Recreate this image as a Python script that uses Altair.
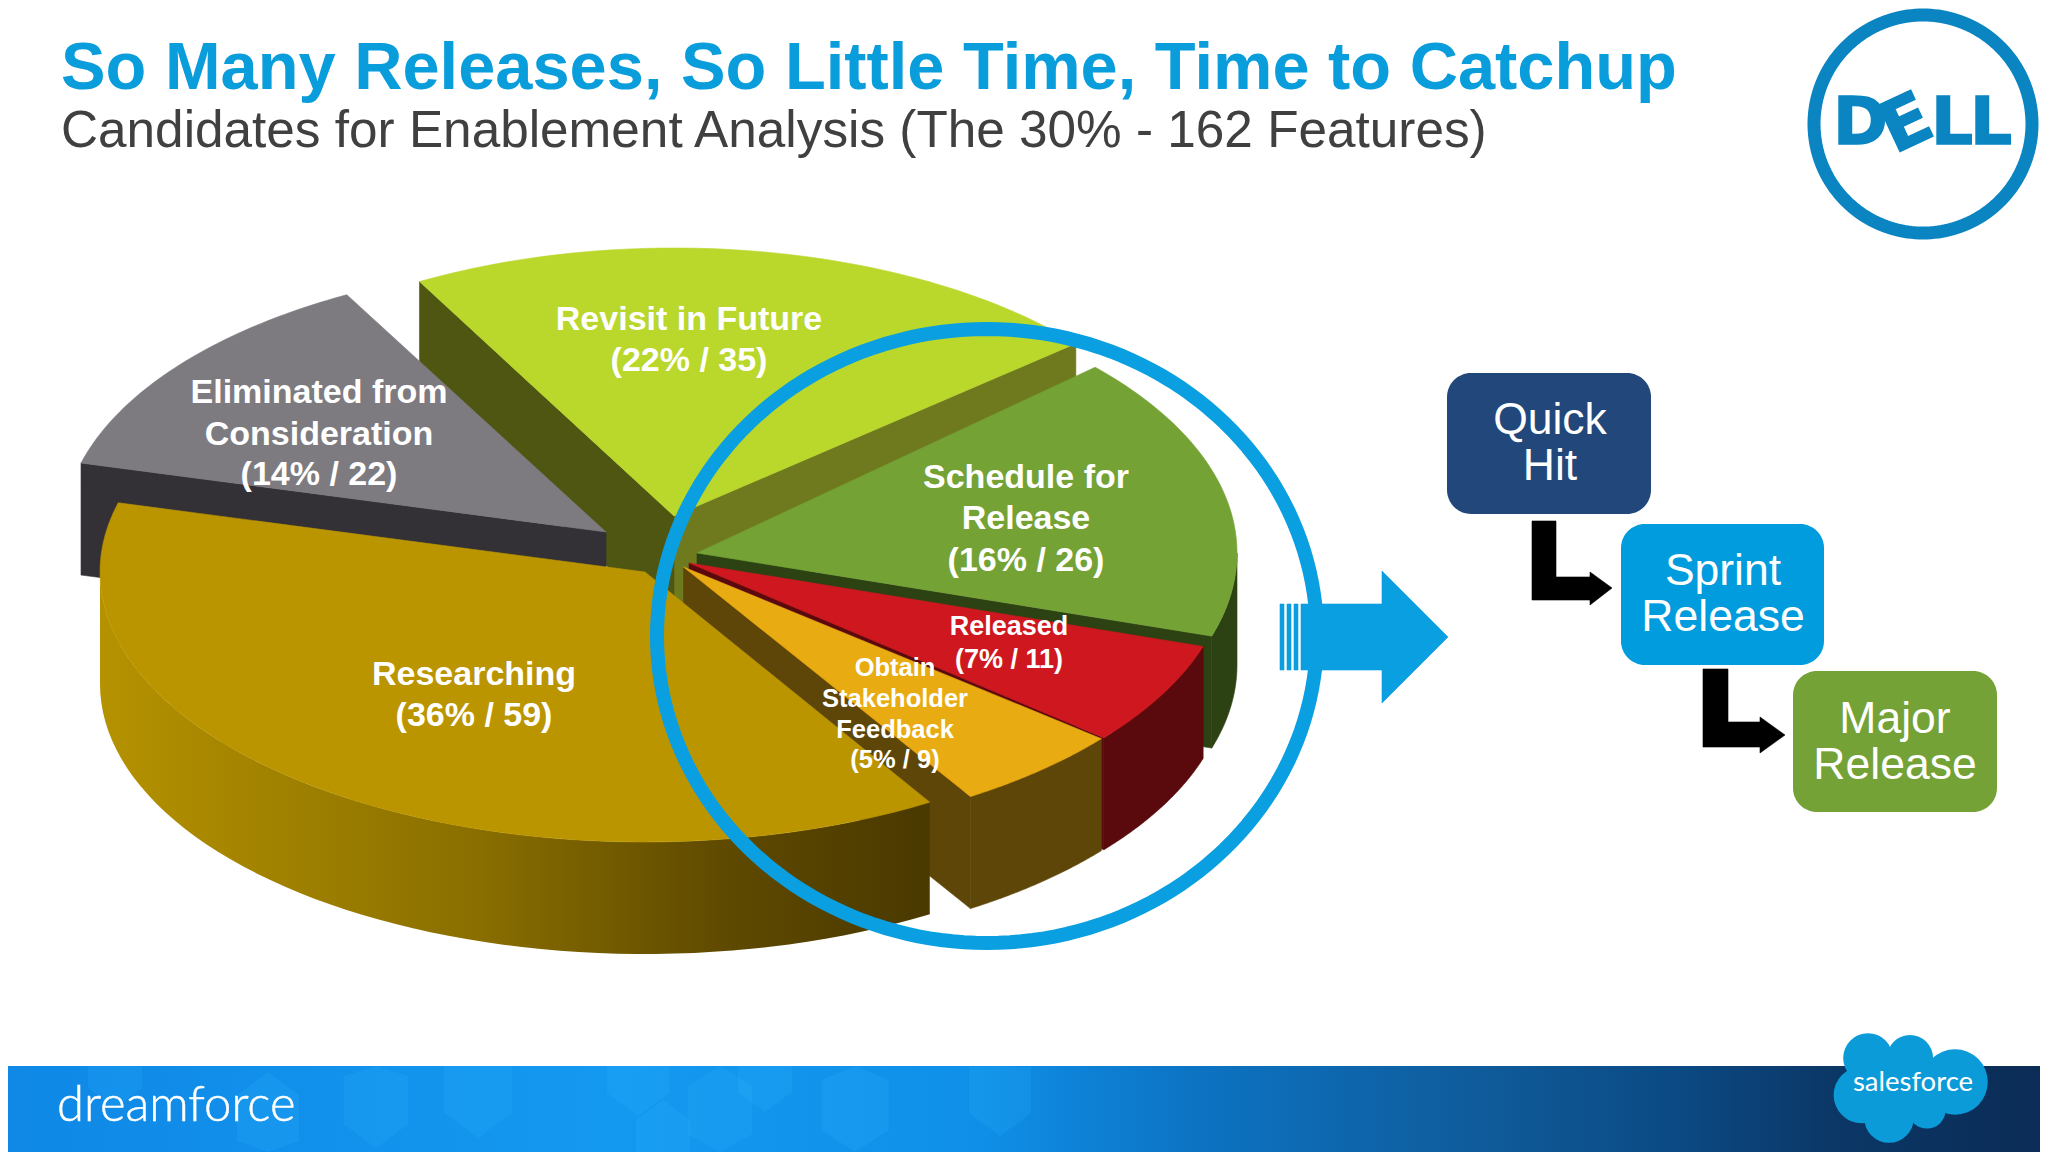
import math
import altair as alt

# ---------- values ----------
slices = ["Revisit in Future", "Schedule for Release", "Released", "Obtain Stakeholder Feedback", "Researching", "Eliminated from Consideration"]
counts = [35, 26, 11, 9, 59, 22]
total = sum(counts)

# ---------- pseudo-3D layout: one entry per slice, in image pixels ----------
# apex x, apex y, rim radius x, rim radius y, start angle (deg, clockwise from top), perspective stretch of sweep
GEOM = {
    "Revisit in Future": (674, 516, 525, 268, -29, 1.015),
    "Schedule for Release": (697, 553, 540, 275, 47.5, 1.04),
    "Released": (689, 563, 540, 273, 107.8, 0.90),
    "Obtain Stakeholder Feedback": (683.5, 567, 540, 271, 129.3, 0.93),
    "Researching": (645, 572, 545, 270, 148.5, 1.04),
    "Eliminated from Consideration": (606, 532, 543, 270, 284.8, 0.955),
}
DEPTH = 112
TOP = dict(zip(slices, ["#bad72b", "#74a235", "#cf1720", "#e9ab12", "#bb9500", "#7d7b80"]))
SIDE = dict(zip(slices, ["#4f5612", "#2d4213", "#5a0a0c", "#5e4608", "#5e4608", "#333136"]))


def rim(name, a0=None, a1=None, dy=0):
    cx, cy, rx, ry, start, k = GEOM[name]
    sweep = counts[slices.index(name)] / total * 360 * k
    a0 = start if a0 is None else a0
    a1 = start + sweep if a1 is None else a1
    n = 60
    out = []
    for i in range(n + 1):
        t = math.radians(a0 + (a1 - a0) * i / n)
        out.append([cx + rx * math.sin(t), cy - ry * math.cos(t) + dy])
    return out


def feature(points, fill):
    pts = list(points) + [points[0]]
    return {"type": "Feature", "properties": {"fill": fill}, "geometry": {"type": "Polygon", "coordinates": [pts]}}


def top(name):
    cx, cy = GEOM[name][:2]
    return feature([[cx, cy]] + rim(name), TOP[name])


def radial_wall(name, end, fill=None):
    cx, cy = GEOM[name][:2]
    r = rim(name)
    p = r[0] if end == 0 else r[-1]
    return feature([[cx, cy], p, [p[0], p[1] + DEPTH], [cx, cy + DEPTH]], fill or SIDE[name])


def outer_wall(name, a0=None, a1=None, fill=None):
    up = rim(name, a0, a1)
    down = rim(name, a0, a1, DEPTH)
    return feature(up + down[::-1], fill or SIDE[name])


REV, SCH, REL, OBT, RES, ELI = slices
flat = [
    radial_wall(REV, 1, "#6f7a1e"),
    radial_wall(REV, 0),
    top(REV),
    radial_wall(ELI, 0),
    top(ELI),
    radial_wall(SCH, 1),
    outer_wall(SCH, a0=90),      # the wall is only seen from the right-most point of the rim
    top(SCH),
    radial_wall(REL, 1),
    outer_wall(REL),
    top(REL),
    radial_wall(OBT, 1),
    outer_wall(OBT),
    top(OBT),
]

X = alt.Scale(domain=[8, 2040], range=[0, 2032])
Y = alt.Scale(domain=[8, 1152], range=[0, 1144])
ax = dict(axis=None, scale=X)
ay = dict(axis=None, scale=Y)
PROJ = dict(type="identity", scale=1, translate=[-8, -8])


def geo(features, **kw):
    return alt.Chart(alt.Data(values=features)).mark_geoshape(**kw).project(**PROJ)


def geo_fill(features):
    return geo(features, strokeWidth=0.6).encode(
        fill=alt.Fill("properties.fill:N", scale=None),
        stroke=alt.Stroke("properties.fill:N", scale=None),
    )


def grad(stops):
    return alt.Gradient(gradient="linear", x1=0, y1=0, x2=1, y2=0,
                        stops=[alt.GradientStop(offset=o, color=c) for o, c in stops])


def ellipse(cx, cy, rx, ry, n=180):
    return [[cx + rx * math.cos(2 * math.pi * i / n), cy + ry * math.sin(2 * math.pi * i / n)] for i in range(n)]


def hexagon(cx, cy, r):
    return [[cx + 0.78 * r * math.sin(math.pi * i / 3), min(1152, max(1066, cy + r * math.cos(math.pi * i / 3)))] for i in range(6)]


BLUE = "#0a9fe0"

# banner
banner = alt.Chart(alt.Data(values=[{"x": 8, "x2": 2040, "y": 1066, "y2": 1152}])).mark_rect(
    fill=grad([(0, "#0f88e6"), (0.3, "#1499f0"), (0.48, "#0f8fe8"), (0.58, "#0c74c4"), (0.72, "#0f5c9c"), (0.82, "#0b4a84"), (0.9, "#0b3766"), (1, "#0b2c56")])
).encode(x=alt.X("x:Q", **ax), x2="x2:Q", y=alt.Y("y:Q", **ay), y2="y2:Q")

hex_centres = [(115, 1068, 40), (268, 1118, 46), (376, 1100, 48), (478, 1088, 50), (638, 1070, 46), (720, 1110, 48),
               (765, 1072, 40), (855, 1105, 50), (663, 1140, 40), (1000, 1090, 46)]
hexes = geo([feature(hexagon(*h), "#2fbcff") for h in hex_centres], opacity=0.16, fill="#2fbcff", strokeWidth=0)

# pie
pie_flat = geo_fill(flat)
res_wall = geo([outer_wall(RES, a1=270)], fill=grad([(0, "#b59200"), (0.45, "#8a6f00"), (0.75, "#5f4a00"), (1, "#4a3900")]), strokeWidth=0)
res_top = geo_fill([top(RES)])

# ring and arrow
ring = geo([feature(ellipse(987, 636, 330, 307), BLUE)], filled=False, stroke=BLUE, strokeWidth=14)
arrow_shapes = [
    [[1301, 604], [1382, 604], [1382, 571], [1448, 637], [1382, 703], [1382, 670], [1301, 670]],
    [[1280, 604], [1284, 604], [1284, 670], [1280, 670]],
    [[1287, 604], [1291, 604], [1291, 670], [1287, 670]],
    [[1294, 604], [1298, 604], [1298, 670], [1294, 670]],
]
arrow = geo_fill([feature(a, BLUE) for a in arrow_shapes])

# boxes
box_x = [1447, 1621, 1793]
box_x2 = [1651, 1824, 1997]
box_y = [373, 524, 671]
box_y2 = [514, 665, 812]
box_col = ["#22477b", "#009cdd", "#74a236"]
boxes = alt.Chart(alt.Data(values=[
    {"x": a, "x2": b, "y": c, "y2": d, "c": e} for a, b, c, d, e in zip(box_x, box_x2, box_y, box_y2, box_col)
])).mark_rect(cornerRadius=24).encode(
    x=alt.X("x:Q", **ax), x2="x2:Q", y=alt.Y("y:Q", **ay), y2="y2:Q", fill=alt.Fill("c:N", scale=None)
)
l_arrows = [
    [[1532, 521], [1556, 521], [1556, 577], [1590, 577], [1590, 572], [1612, 588], [1590, 605], [1590, 600], [1532, 600]],
    [[1703, 669], [1728, 669], [1728, 722], [1760, 722], [1760, 717], [1785, 735], [1760, 753], [1760, 747], [1703, 747]],
]
l_shapes = geo_fill([feature(a, "#000000") for a in l_arrows])

# Dell ring
dell_ring = geo([feature(ellipse(1923, 124, 109, 109), "#0a85c2")], filled=False, stroke="#0a85c2", strokeWidth=13)

# salesforce cloud
cloud_x = [1868, 1910, 1955, 1889, 1927, 1862, 1905]
cloud_y = [1058, 1058, 1082, 1118, 1110, 1095, 1085]
cloud_r = [28, 26, 37, 28, 21, 32, 38]
cloud = alt.Chart(alt.Data(values=[{"x": a, "y": b, "s": math.pi * r * r} for a, b, r in zip(cloud_x, cloud_y, cloud_r)])).mark_circle(
    opacity=1, color="#0c9bd9"
).encode(x=alt.X("x:Q", **ax), y=alt.Y("y:Q", **ay), size=alt.Size("s:Q", scale=None))

# text: (text, x, y, size, weight, colour, align, font, angle, stroke width)
LS = "Liberation Sans"
DV = "DejaVu Sans"
DELL = "#0a85c2"
texts = [
    ("So Many Releases, So Little Time, Time to Catchup", 61, 68.5, 66.8, "bold", "#0a9ddb", "left", LS, 0, 0),
    ("Candidates for Enablement Analysis (The 30% - 162 Features)", 61, 131.5, 51.3, "normal", "#404040", "left", LS, 0, 0),
    ("Revisit in Future", 689, 320, 34, "bold", "white", "center", LS, 0, 0),
    ("(22% / 35)", 689, 361, 34, "bold", "white", "center", LS, 0, 0),
    ("Eliminated from", 319, 393, 34, "bold", "white", "center", LS, 0, 0),
    ("Consideration", 319, 434.5, 34, "bold", "white", "center", LS, 0, 0),
    ("(14% / 22)", 319, 475, 34, "bold", "white", "center", LS, 0, 0),
    ("Schedule for", 1026, 478, 34, "bold", "white", "center", LS, 0, 0),
    ("Release", 1026, 519, 34, "bold", "white", "center", LS, 0, 0),
    ("(16% / 26)", 1026, 560.5, 34, "bold", "white", "center", LS, 0, 0),
    ("Researching", 474, 674.5, 34, "bold", "white", "center", LS, 0, 0),
    ("(36% / 59)", 474, 715.5, 34, "bold", "white", "center", LS, 0, 0),
    ("Released", 1009, 627, 27, "bold", "white", "center", LS, 0, 0),
    ("(7% / 11)", 1009, 660, 27, "bold", "white", "center", LS, 0, 0),
    ("Obtain", 895, 668, 25.5, "bold", "white", "center", LS, 0, 0),
    ("Stakeholder", 895, 699, 25.5, "bold", "white", "center", LS, 0, 0),
    ("Feedback", 895, 729.5, 25.5, "bold", "white", "center", LS, 0, 0),
    ("(5% / 9)", 895, 760, 25.5, "bold", "white", "center", LS, 0, 0),
    ("Quick", 1550, 420.5, 44.5, "normal", "white", "center", LS, 0, 0),
    ("Hit", 1550, 466.5, 44.5, "normal", "white", "center", LS, 0, 0),
    ("Sprint", 1723, 572, 44.5, "normal", "white", "center", LS, 0, 0),
    ("Release", 1723, 618, 44.5, "normal", "white", "center", LS, 0, 0),
    ("Major", 1895, 719.5, 44.5, "normal", "white", "center", LS, 0, 0),
    ("Release", 1895, 765.5, 44.5, "normal", "white", "center", LS, 0, 0),
    ("dreamforce", 57, 1106, 49, 300, "white", "left", "Lato", 0, 0.5),
    ("salesforce", 1913, 1083, 27.5, "normal", "white", "center", "Lato", 0, 0),
    ("D", 1833, 124, 66, "bold", DELL, "left", DV, 0, 1.5),
    ("E", 1907, 125, 70, "bold", DELL, "center", DV, 335, 1.5),
    ("L", 1931, 124, 66, "bold", DELL, "left", DV, 0, 1.5),
    ("L", 1970, 124, 66, "bold", DELL, "left", DV, 0, 1.5),
]
text_layers = []
for t, x, y, s, w, c, al, f, ang, sw in texts:
    kw = dict(stroke=c, strokeWidth=sw) if sw else {}
    text_layers.append(
        alt.Chart(alt.Data(values=[{"t": t, "x": x, "y": y}])).mark_text(
            fontSize=s, fontWeight=w, color=c, align=al, baseline="middle", font=f, angle=ang, **kw
        ).encode(x=alt.X("x:Q", **ax), y=alt.Y("y:Q", **ay), text="t:N")
    )

chart = alt.layer(
    banner, hexes, pie_flat, res_wall, res_top, ring, arrow, boxes, l_shapes, dell_ring, cloud, *text_layers
).properties(width=2032, height=1144, padding=0, autosize=alt.AutoSizeParams(type="none")).configure_view(stroke=None)

chart.save("out.html", embed_options={"renderer": "svg", "actions": False})
